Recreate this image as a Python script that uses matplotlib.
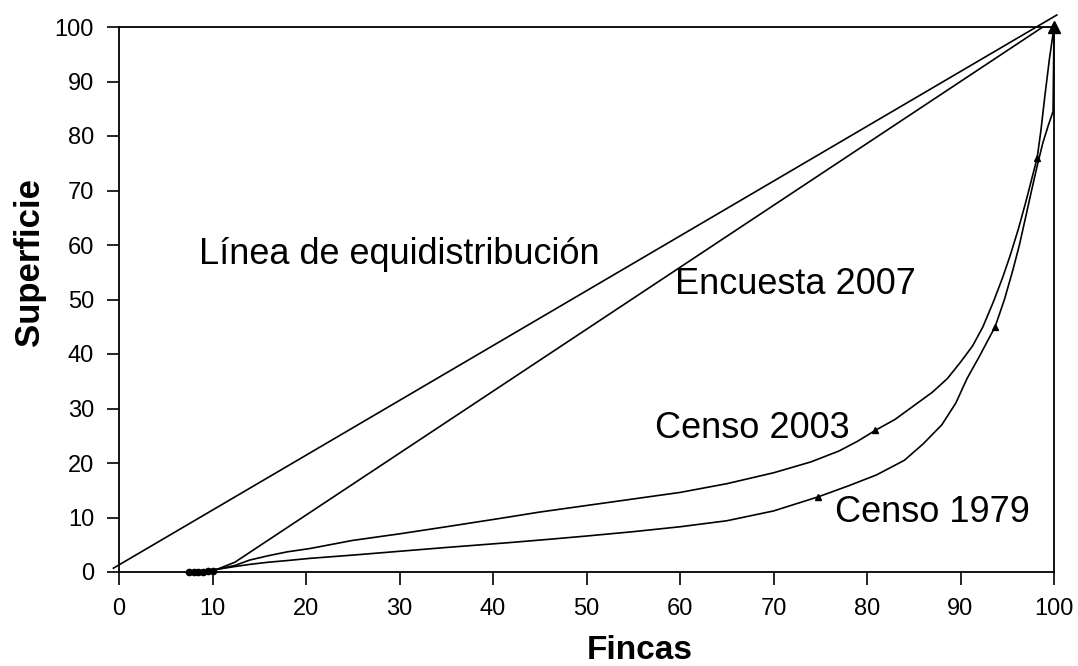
import matplotlib
matplotlib.use("Agg")
import matplotlib.pyplot as plt

plt.rcParams['font.family'] = ['Liberation Sans', 'DejaVu Sans']

# Data (percent of farms vs percent of area)
equi_x = [-0.6, 100.3]
equi_y = [0.7, 102.2]

encuesta_x = [10.5, 12.4, 98.8, 100]
encuesta_y = [0.5, 1.8, 100, 100]

censo2003_x = [7.5, 8.5, 9.5, 10.5, 12.4, 14, 16, 18, 20.4, 25, 30, 35, 41, 45, 50,
               55, 60, 65, 70, 74, 77, 79, 80.9, 83, 85, 87, 88.6, 90, 91.3, 92.4,
               93.5, 94.5, 95.3, 96.2, 97, 97.6, 98.2, 98.6, 99, 99.5, 100]
censo2003_y = [0, 0.05, 0.2, 0.5, 1.2, 2.2, 3.0, 3.7, 4.3, 5.8, 7.0, 8.3, 9.9, 11, 12.2,
               13.4, 14.6, 16.2, 18.2, 20.2, 22.2, 24, 26, 28, 30.5, 33, 35.5, 38.5, 41.5, 45,
               49.5, 54, 58, 63, 68, 72, 76, 81, 87, 94, 100]

censo1979_x = [7.5, 8.5, 9.5, 10.5, 12.4, 14, 16, 18, 20.4, 25, 30, 35, 41.8, 46, 50,
               55, 60, 65, 70, 74.8, 78, 81, 84, 86, 88, 89.5, 90.7, 92, 93.7, 94.7,
               95.6, 96.3, 96.9, 97.6, 98.2, 98.8, 99.4, 99.9, 100]
censo1979_y = [0, 0.05, 0.2, 0.5, 1.0, 1.4, 1.8, 2.1, 2.5, 3.1, 3.8, 4.5, 5.4, 6.0, 6.6,
               7.4, 8.3, 9.4, 11.2, 13.8, 15.8, 17.8, 20.5, 23.5, 27, 31, 35.5, 39.5, 45, 50,
               55.4, 60, 64.6, 70, 74.5, 78.7, 82, 84.5, 100]

marker2003_x = [80.9, 98.2]
marker2003_y = [26, 76]
marker1979_x = [74.8, 93.7]
marker1979_y = [13.8, 45]
low_x = [7.5, 8.0, 8.5, 9.0, 9.5, 10.0]
low_y = [0, 0, 0, 0, 0.1, 0.2]
top_x = [100]
top_y = [100]

x_ticks = [0, 10, 20, 30, 40, 50, 60, 70, 80, 90, 100]
y_ticks = [0, 10, 20, 30, 40, 50, 60, 70, 80, 90, 100]

labels = [
    ("Línea de equidistribución", 8.6, 58.2),
    ("Encuesta 2007", 59.5, 52.7),
    ("Censo 2003", 57.3, 26.4),
    ("Censo 1979", 76.6, 11.0),
]

fig = plt.figure(figsize=(10.78, 6.66), dpi=100)
ax = fig.add_axes([119/1078, 1-572/666, (1054-119)/1078, (572-27)/666])

lw = 1.2
ax.plot(equi_x, equi_y, color='black', lw=lw, clip_on=False)
ax.plot(encuesta_x, encuesta_y, color='black', lw=lw)
ax.plot(censo2003_x, censo2003_y, color='black', lw=lw)
ax.plot(censo1979_x, censo1979_y, color='black', lw=lw, clip_on=False)

ax.plot(marker2003_x, marker2003_y, ls='none', marker='^', ms=5, color='black')
ax.plot(marker1979_x, marker1979_y, ls='none', marker='^', ms=5, color='black')
ax.plot(low_x, low_y, ls='none', marker='o', ms=4.5, color='black', clip_on=False)
ax.plot(top_x, top_y, ls='none', marker='^', ms=8, color='black', clip_on=False)

for txt, x, y in labels:
    ax.text(x, y, txt, fontsize=26, ha='left', va='center', color='black')

ax.set_xlim(0, 100)
ax.set_ylim(0, 100)
ax.set_xticks(x_ticks)
ax.set_yticks(y_ticks)
ax.tick_params(axis='both', labelsize=17, length=9, width=1.2, direction='out')
ax.tick_params(axis='x', pad=10)
ax.tick_params(axis='y', pad=9)
for s in ax.spines.values():
    s.set_linewidth(1.3)

ax.set_xlabel("Fincas", fontsize=24, fontweight='bold')
ax.xaxis.set_label_coords(0.557, -0.116)
ax.set_ylabel("Superficie", fontsize=25, fontweight='bold')
ax.yaxis.set_label_coords(-0.078, 0.569)

fig.savefig("out.png", dpi=100)
